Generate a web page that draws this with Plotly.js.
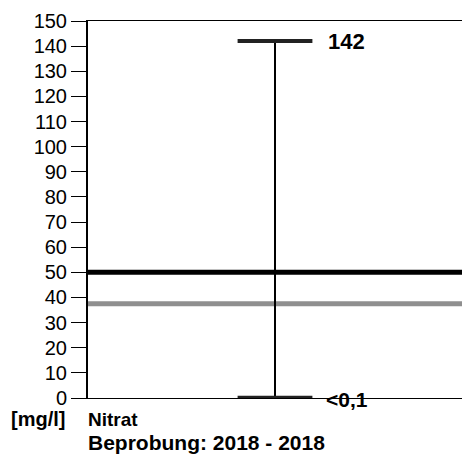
<!DOCTYPE html>
<html>
<head>
<meta charset="utf-8">
<script src="https://cdn.plot.ly/plotly-3.0.1.min.js"></script>
<style>html,body{margin:0;padding:0;background:#fff;}#chart{width:462px;height:458px;}</style>
</head>
<body>
<div id="chart"></div>
<script>
// Data
var parameterName = "Nitrat";
var unitLabel = "[mg/l]";
var periodLabel = "Beprobung: 2018 - 2018";
var minValue = [0.1];
var maxValue = [142];
var minLabel = ["<0,1"];
var maxLabel = ["142"];
var limitValue = [50];      // Grenzwert
var warnValue = [37.5];     // Schwellenwert (75 %)
var yTicks = [0,10,20,30,40,50,60,70,80,90,100,110,120,130,140,150];

var FONT = "Liberation Sans, Arial, sans-serif";
var capHalf = 0.2;

var traces = [
  {x:[-1,1], y:[warnValue[0],warnValue[0]], mode:'lines', line:{color:'#8f8f8f', width:5}, hoverinfo:'skip', cliponaxis:false},
  {x:[-1,1], y:[limitValue[0],limitValue[0]], mode:'lines', line:{color:'#000', width:5}, hoverinfo:'skip', cliponaxis:false},
  {x:[0,0], y:[minValue[0],maxValue[0]], mode:'lines', line:{color:'#000', width:2}, hoverinfo:'skip', cliponaxis:false},
  {x:[-capHalf,capHalf], y:[maxValue[0],maxValue[0]], mode:'lines', line:{color:'#222', width:4}, hoverinfo:'skip', cliponaxis:false},
  {x:[-capHalf,capHalf], y:[minValue[0],minValue[0]], mode:'lines', line:{color:'#222', width:4}, hoverinfo:'skip', cliponaxis:false}
];

var layout = {
  width:462, height:458,
  margin:{l:88, r:0, t:21, b:60, pad:0},
  paper_bgcolor:'#fff', plot_bgcolor:'#fff',
  showlegend:false,
  font:{family:FONT, color:'#000'},
  xaxis:{range:[-1,1], showgrid:false, zeroline:false, showticklabels:false, ticks:'',
         showline:true, mirror:true, linecolor:'#000', linewidth:1, fixedrange:true},
  yaxis:{range:[0,150], tickvals:yTicks, ticktext:yTicks.map(String), showgrid:false, zeroline:false,
         ticks:'outside', ticklen:15, tickwidth:1, tickcolor:'#000',
         showline:true, linecolor:'#000', linewidth:2,
         tickfont:{family:FONT, size:20, color:'#000'}, fixedrange:true},
  annotations:[
    {xref:'x', yref:'y', x:capHalf, y:maxValue[0], text:'<b>'+maxLabel[0]+'</b>', showarrow:false,
     xanchor:'left', yanchor:'middle', xshift:14, font:{family:FONT, size:22, color:'#000'}},
    {xref:'x', yref:'y', x:capHalf, y:minValue[0], text:'<b>'+minLabel[0]+'</b>', showarrow:false,
     xanchor:'left', yanchor:'middle', xshift:12, yshift:-2, font:{family:FONT, size:21, color:'#000'}},
    {xref:'paper', yref:'paper', x:0, y:0, text:'<b>'+unitLabel+'</b>', showarrow:false,
     xanchor:'right', yanchor:'middle', xshift:-21, yshift:-21, font:{family:FONT, size:20, color:'#000'}},
    {xref:'paper', yref:'paper', x:0, y:0, text:'<b>'+parameterName+'</b>', showarrow:false,
     xanchor:'left', yanchor:'middle', xshift:-2, yshift:-21, font:{family:FONT, size:19, color:'#000'}},
    {xref:'paper', yref:'paper', x:0, y:0, text:'<b>'+periodLabel+'</b>', showarrow:false,
     xanchor:'left', yanchor:'middle', xshift:-2, yshift:-44, font:{family:FONT, size:21, color:'#000'}}
  ]
};

Plotly.newPlot('chart', traces, layout, {displayModeBar:false, staticPlot:true});
</script>
</body>
</html>
